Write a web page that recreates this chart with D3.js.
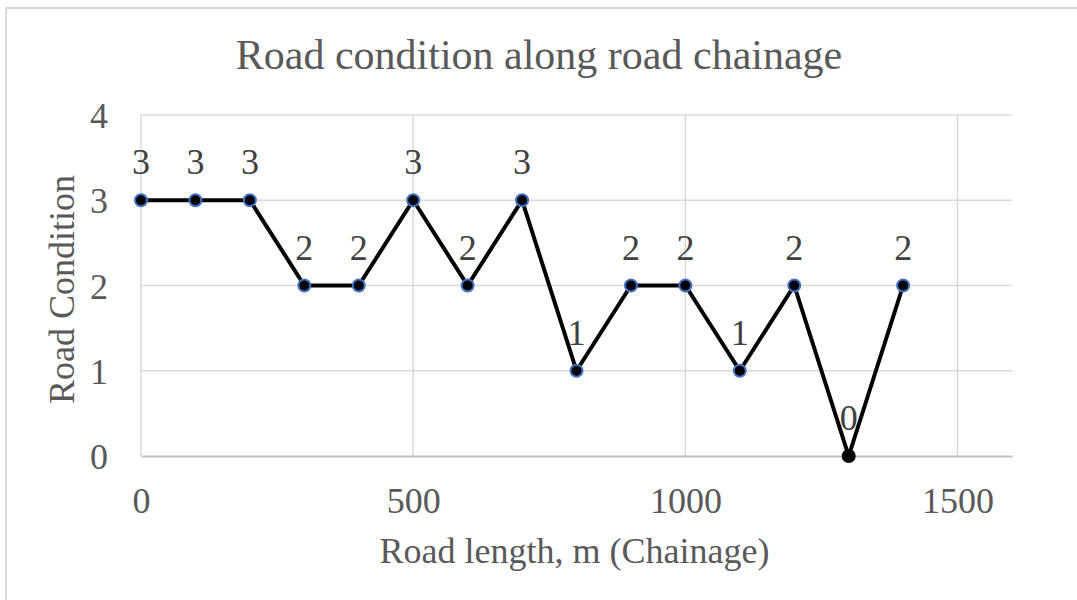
<!DOCTYPE html>
<html>
<head>
<meta charset="utf-8">
<script src="https://cdn.jsdelivr.net/npm/d3@7/dist/d3.min.js"></script>
<style>
  html, body { margin: 0; padding: 0; background: #fff; }
  svg text { font-family: "Liberation Serif", "Times New Roman", serif; }
</style>
</head>
<body>
<div id="chart"></div>
<script>
// chainage (m) and road condition rating
const chainage = [0, 100, 200, 300, 400, 500, 600, 700, 800, 900, 1000, 1100, 1200, 1300, 1400];
const condition = [3, 3, 3, 2, 2, 3, 2, 3, 1, 2, 2, 1, 2, 0, 2];
const xTicks = [0, 500, 1000, 1500];
const yTicks = [0, 1, 2, 3, 4];

const width = 1077, height = 600;
const margin = { top: 115, right: 65, bottom: 144, left: 141 };

var svg = d3.select("#chart").append("svg")
    .attr("width", width)
    .attr("height", height);

// outer chart border
svg.append("rect")
    .attr("x", 6).attr("y", 8)
    .attr("width", width).attr("height", height)
    .attr("fill", "none")
    .attr("stroke", "#d9d9d9")
    .attr("stroke-width", 2);

var x = d3.scaleLinear().domain([0, 1600]).range([margin.left, width - margin.right]);
var y = d3.scaleLinear().domain([0, 4]).range([height - margin.bottom, margin.top]);

// horizontal gridlines
svg.append("g").selectAll("line")
    .data(yTicks.filter(function(d) { return d > 0; }))
    .enter().append("line")
    .attr("x1", x(0)).attr("x2", x(1600))
    .attr("y1", function(d) { return y(d); })
    .attr("y2", function(d) { return y(d); })
    .attr("stroke", "#d9d9d9").attr("stroke-width", 1.5);

// vertical gridlines
svg.append("g").selectAll("line")
    .data(xTicks)
    .enter().append("line")
    .attr("x1", function(d) { return x(d); })
    .attr("x2", function(d) { return x(d); })
    .attr("y1", y(0)).attr("y2", y(4))
    .attr("stroke", "#d9d9d9").attr("stroke-width", 1.5);

// x axis
var xAxis = svg.append("g")
    .attr("transform", "translate(0," + y(0) + ")")
    .call(d3.axisBottom(x).tickValues(xTicks).tickFormat(d3.format("d")).tickSize(0).tickPadding(31));
xAxis.select(".domain").attr("stroke", "#bfbfbf").attr("stroke-width", 2);
xAxis.selectAll("text")
    .attr("font-size", 36)
    .attr("fill", "#595959")
    .style("font-family", "Liberation Serif");

// y axis
var yAxis = svg.append("g")
    .attr("transform", "translate(" + x(0) + ",0)")
    .call(d3.axisLeft(y).tickValues(yTicks).tickFormat(d3.format("d")).tickSize(0).tickPadding(33));
yAxis.select(".domain").remove();
yAxis.selectAll("text")
    .attr("font-size", 36)
    .attr("fill", "#595959")
    .attr("dy", "0.35em")
    .style("font-family", "Liberation Serif");

// the line
var line = d3.line()
    .x(function(d) { return x(d[0]); })
    .y(function(d) { return y(d[1]); });
var pts = chainage.map(function(c, i) { return [c, condition[i]]; });

svg.append("path")
    .datum(pts)
    .attr("d", line)
    .attr("fill", "none")
    .attr("stroke", "#000")
    .attr("stroke-width", 4)
    .attr("stroke-linejoin", "round");

// markers
svg.append("g").selectAll("circle")
    .data(pts)
    .enter().append("circle")
    .attr("cx", function(d) { return x(d[0]); })
    .attr("cy", function(d) { return y(d[1]); })
    .attr("r", 6)
    .attr("fill", "#000")
    .attr("stroke", function(d) { return d[1] === 0 ? "#000" : "#4472c4"; })
    .attr("stroke-width", 2);

// data labels
svg.append("g").selectAll("text")
    .data(pts)
    .enter().append("text")
    .attr("x", function(d) { return x(d[0]); })
    .attr("y", function(d) { return y(d[1]) - 26; })
    .attr("text-anchor", "middle")
    .attr("font-size", 36)
    .attr("fill", "#404040")
    .text(function(d) { return d[1]; });

// title
svg.append("text")
    .attr("x", 539).attr("y", 69)
    .attr("text-anchor", "middle")
    .attr("font-size", 42)
    .attr("fill", "#595959")
    .text("Road condition along road chainage");

// axis titles
svg.append("text")
    .attr("x", (x(0) + x(1600)) / 2 - 2).attr("y", 563)
    .attr("text-anchor", "middle")
    .attr("font-size", 36)
    .attr("fill", "#595959")
    .text("Road length, m (Chainage)");

svg.append("text")
    .attr("transform", "translate(74," + ((y(0) + y(4)) / 2 + 4) + ") rotate(-90)")
    .attr("text-anchor", "middle")
    .attr("font-size", 36)
    .attr("fill", "#595959")
    .text("Road Condition");
</script>
</body>
</html>
